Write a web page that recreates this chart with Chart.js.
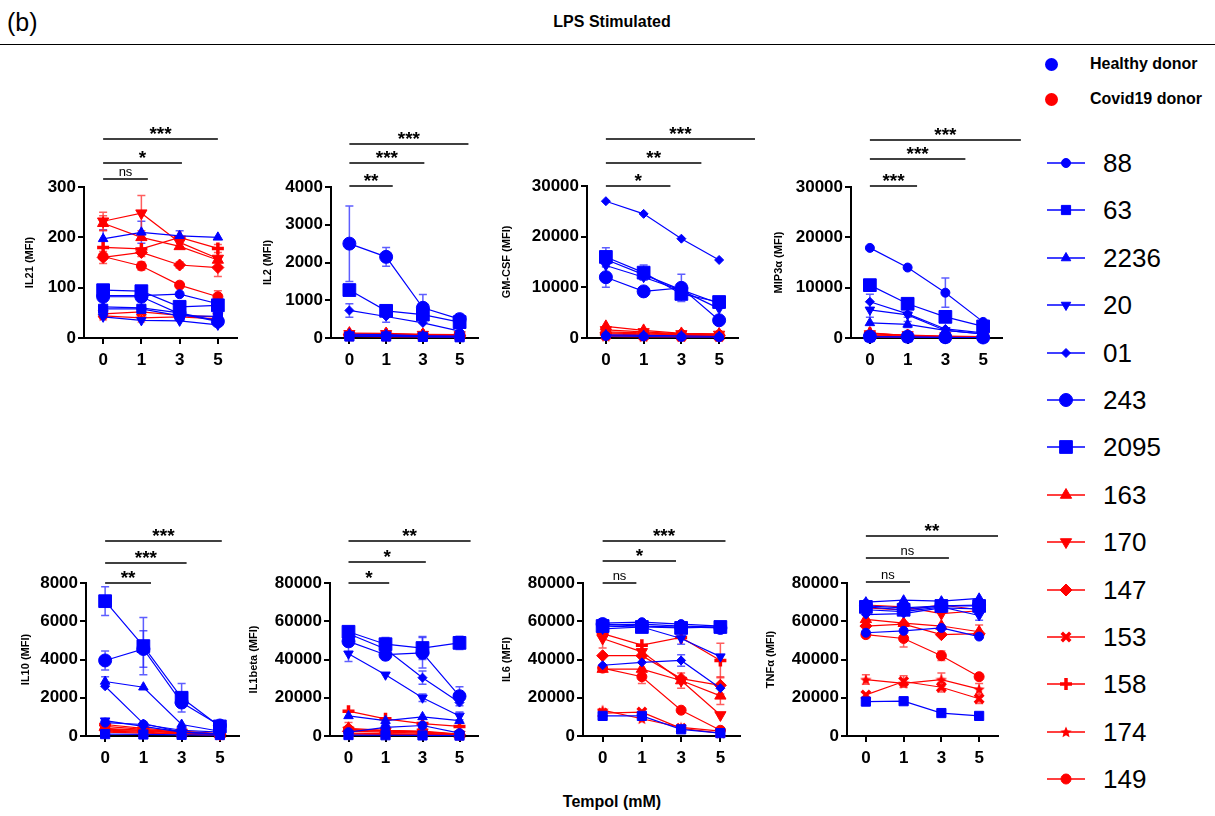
<!DOCTYPE html>
<html>
<head>
<meta charset="utf-8">
<script src="https://cdn.jsdelivr.net/npm/chart.js@4.4.1/dist/chart.umd.min.js"></script>
<style>
  body { margin: 0; background: #fff; font-family: 'Liberation Sans', Arial, sans-serif; }
  #fig { position: relative; width: 1215px; height: 816px; overflow: hidden; background: #fff; }
  .abs { position: absolute; white-space: nowrap; color: #000; }
  canvas.panel { position: absolute; }
</style>
</head>
<body>
<div id="fig">
  <div class="abs" style="left:7px;top:7px;font-size:25px;line-height:30px;">(b)</div>
  <div class="abs" style="left:0;width:1224px;top:12px;text-align:center;font-weight:bold;font-size:16px;line-height:20px;">LPS Stimulated</div>
  <div class="abs" style="left:0;top:44px;width:1215px;border-top:1.5px solid #000;"></div>
  <div class="abs" style="left:0;width:1224px;top:792px;text-align:center;font-weight:bold;font-size:16px;line-height:20px;">Tempol (mM)</div>

  <div class="abs" style="left:1045px;top:58px;width:13px;height:13px;border-radius:50%;background:#0000ff;"></div>
  <div class="abs" style="left:1090px;top:54px;font-weight:bold;font-size:16px;line-height:20px;">Healthy donor</div>
  <div class="abs" style="left:1045px;top:93px;width:13px;height:13px;border-radius:50%;background:#ff0000;"></div>
  <div class="abs" style="left:1090px;top:89px;font-weight:bold;font-size:16px;line-height:20px;">Covid19 donor</div>
</div>

<script>
// x categories (Tempol, mM)
const timePoints = ['0', '1', '3', '5'];

const healthyDonors = ['88', '63', '2236', '20', '01', '243', '2095'];
const covidDonors = ['163', '170', '147', '153', '158', '174', '149'];
const donors = healthyDonors.concat(covidDonors);

// one row per donor, in the order of `donors`
const il21Values = [
  [84, 84, 87, 68], [58, 58, 44, 43], [197, 210, 203, 200], [42, 35, 34, 26],
  [62, 60, 50, 34], [82, 82, 48, 33], [95, 93, 62, 65],
  [228, 200, 182, 155], [232, 248, 190, 158], [160, 170, 145, 140], [48, 52, 45, 42],
  [180, 177, 200, 178], [44, 40, 42, 38], [162, 143, 105, 82]
];
const il2Values = [
  [60, 50, 40, 30], [40, 40, 30, 20], [100, 90, 60, 50], [80, 70, 50, 40],
  [730, 570, 400, 180], [2500, 2150, 800, 500], [1270, 720, 620, 420],
  [130, 120, 100, 90], [110, 110, 90, 80], [90, 80, 70, 60], [60, 50, 40, 40],
  [100, 90, 80, 70], [40, 30, 30, 30], [70, 60, 50, 40]
];
const gmcsfValues = [
  [400, 300, 200, 150], [15500, 12500, 9500, 6800], [600, 500, 400, 300], [14300, 12000, 9400, 5800],
  [27000, 24500, 19600, 15400], [12000, 9200, 9900, 3500], [16000, 12900, 8700, 7100],
  [2300, 1500, 900, 800], [1600, 1200, 800, 700], [1000, 800, 600, 500], [500, 400, 300, 300],
  [800, 600, 500, 400], [300, 200, 200, 200], [1200, 1000, 700, 600]
];
const mip3aValues = [
  [17900, 14000, 9000, 3200], [200, 150, 100, 100], [3000, 2700, 1500, 800], [5600, 4600, 1500, 800],
  [7200, 4800, 1800, 1000], [300, 250, 150, 100], [10500, 6800, 4200, 2300],
  [1000, 500, 300, 200], [800, 600, 400, 300], [600, 400, 300, 200], [300, 200, 150, 100],
  [900, 500, 300, 200], [200, 150, 100, 100], [500, 300, 200, 150]
];
const il10Values = [
  [700, 600, 300, 200], [100, 80, 60, 50], [2850, 2550, 600, 250], [800, 500, 200, 100],
  [2600, 650, 200, 100], [3950, 4550, 1750, 550], [7050, 4700, 2000, 500],
  [500, 350, 200, 100], [400, 300, 200, 100], [300, 250, 150, 80], [250, 200, 100, 60],
  [600, 400, 250, 120], [200, 150, 100, 50], [350, 300, 150, 80]
];
const il1betaValues = [
  [2000, 4500, 5500, 1500], [500, 400, 300, 200], [10500, 8000, 10000, 8000], [43000, 32000, 20000, 10500],
  [53500, 45500, 30500, 17500], [49500, 42500, 43500, 20800], [54500, 48000, 46000, 48700],
  [4000, 3000, 2500, 1000], [3000, 2500, 2000, 800], [2500, 2000, 1500, 600], [1500, 1200, 1000, 500],
  [13000, 9000, 6500, 5000], [1000, 800, 700, 400], [3500, 2800, 2200, 900]
];
const il6Values = [
  [59000, 59500, 58500, 57500], [10500, 10500, 3500, 1500], [58000, 58500, 57500, 57000], [56000, 57000, 51000, 41500],
  [37000, 38500, 39500, 25000], [58500, 57500, 57000, 56500], [57500, 57000, 56500, 57000],
  [35000, 35000, 29000, 21000], [51000, 44000, 29000, 11000], [42000, 42000, 30000, 26500], [12000, 12500, 4000, 1500],
  [53500, 47500, 51500, 39500], [13500, 9000, 4500, 2500], [35500, 31000, 13500, 3000]
];
const tnfaValues = [
  [54000, 55000, 56500, 52000], [18000, 18200, 12000, 10500], [70000, 71000, 70500, 72000], [66000, 65000, 67500, 63000],
  [63500, 64000, 67000, 66500], [68000, 67000, 68000, 68500], [67500, 66000, 68000, 68000],
  [61000, 59000, 57500, 54500], [68500, 67500, 64000, 65500], [57500, 58500, 53000, 53500], [21500, 28500, 25500, 19500],
  [67000, 66000, 68500, 66000], [29500, 27500, 29500, 24500], [53000, 51000, 42000, 31000]
];

// visible error bars (SD), by donor
const il21Errors = { '2236': [18, 22, 10, 0], '163': [15, 0, 0, 0], '170': [18, 35, 12, 0], '147': [12, 8, 6, 18], '149': [0, 8, 0, 12], '158': [0, 0, 0, 8], '153': [10, 0, 0, 0] };
const il2Errors = { '243': [1000, 250, 350, 60], '01': [180, 150, 0, 0], '2095': [0, 100, 0, 0] };
const gmcsfErrors = { '2095': [1800, 1500, 0, 0], '243': [2000, 0, 2700, 0] };
const mip3aErrors = { '88': [0, 0, 2900, 0], '01': [1500, 0, 0, 0], '20': [1500, 500, 0, 0], '2236': [0, 600, 0, 0] };
const il10Errors = { '2095': [750, 1500, 750, 0], '243': [500, 950, 0, 0], '2236': [250, 0, 0, 0] };
const il1betaErrors = { '2095': [0, 3500, 6000, 3500], '243': [0, 2000, 8000, 5000], '20': [4000, 0, 2000, 2000], '01': [0, 0, 3500, 0], '163': [3000, 0, 0, 0] };
const il6Errors = { '20': [0, 0, 3000, 0], '01': [0, 0, 3000, 0], '158': [0, 0, 0, 9000], '170': [5000, 0, 0, 0], '149': [0, 3500, 0, 0], '163': [0, 0, 4000, 4500], '147': [0, 0, 0, 4500] };
const tnfaErrors = { '149': [0, 4500, 2500, 0], '174': [2500, 0, 3500, 3000], '153': [0, 3000, 2500, 2500], '63': [2000, 0, 0, 0], '163': [0, 0, 0, 3500], '20': [0, 0, 0, 2500] };

// significance bars: label and how far (in category steps from "0") the bar reaches
const il21Sig = [['ns', 1.17], ['*', 2.06], ['***', 3.0]];
const il2Sig = [['**', 1.18], ['***', 2.04], ['***', 3.24]];
const gmcsfSig = [['*', 1.71], ['**', 2.53], ['***', 3.95]];
const mip3aSig = [['***', 1.25], ['***', 2.53], ['***', 4.0]];
const il10Sig = [['**', 1.2], ['***', 2.13], ['***', 3.05]];
const il1betaSig = [['*', 1.1], ['*', 2.09], ['**', 3.3]];
const il6Sig = [['ns', 0.86], ['*', 1.87], ['***', 3.13]];
const tnfaSig = [['ns', 1.17], ['ns', 2.2], ['**', 3.5]];

// y tick labels
const il21Ticks = [0, 100, 200, 300];
const il2Ticks = [0, 1000, 2000, 3000, 4000];
const gmcsfTicks = [0, 10000, 20000, 30000];
const mip3aTicks = [0, 10000, 20000, 30000];
const il10Ticks = [0, 2000, 4000, 6000, 8000];
const il1betaTicks = [0, 20000, 40000, 60000, 80000];
const il6Ticks = [0, 20000, 40000, 60000, 80000];
const tnfaTicks = [0, 20000, 40000, 60000, 80000];

const panels = [
  { name: 'IL21 (MFI)', values: il21Values, errors: il21Errors, sig: il21Sig, ticks: il21Ticks },
  { name: 'IL2 (MFI)', values: il2Values, errors: il2Errors, sig: il2Sig, ticks: il2Ticks },
  { name: 'GM-CSF (MFI)', values: gmcsfValues, errors: gmcsfErrors, sig: gmcsfSig, ticks: gmcsfTicks },
  { name: 'MIP3\u03b1 (MFI)', values: mip3aValues, errors: mip3aErrors, sig: mip3aSig, ticks: mip3aTicks },
  { name: 'IL10 (MFI)', values: il10Values, errors: il10Errors, sig: il10Sig, ticks: il10Ticks },
  { name: 'IL1beta (MFI)', values: il1betaValues, errors: il1betaErrors, sig: il1betaSig, ticks: il1betaTicks },
  { name: 'IL6 (MFI)', values: il6Values, errors: il6Errors, sig: il6Sig, ticks: il6Ticks },
  { name: 'TNF\u03b1 (MFI)', values: tnfaValues, errors: tnfaErrors, sig: tnfaSig, ticks: tnfaTicks }
];

// where each plot sits on the page
const panelLayout = [
  { axisX: 84, top: 187, w: 153, h: 151, titleGap: 54, rise: [8, 24, 48] },
  { axisX: 331, top: 187, w: 147, h: 151, titleGap: 63, rise: [1, 24, 43] },
  { axisX: 587, top: 186, w: 151, h: 152, titleGap: 80, rise: [0, 23, 47] },
  { axisX: 851, top: 187, w: 151, h: 151, titleGap: 72, rise: [1, 28, 47] },
  { axisX: 86, top: 583, w: 153, h: 153, titleGap: 60, rise: [0, 20, 42] },
  { axisX: 330, top: 583, w: 148, h: 153, titleGap: 76, rise: [0, 21, 42] },
  { axisX: 583, top: 583, w: 157, h: 153, titleGap: 76, rise: [0, 22, 42] },
  { axisX: 847, top: 583, w: 151, h: 153, titleGap: 76, rise: [1, 25, 47] }
];

const BLUE = '#0000ff', RED = '#ff0000';
const BLUE_ERR = 'rgba(40,40,255,0.75)', RED_ERR = 'rgba(255,40,40,0.75)';

// filled five-point star, used as a point image for donor 174
function starImage(size, color) {
  const c = document.createElement('canvas');
  c.width = size; c.height = size;
  const g = c.getContext('2d');
  const cx = size / 2, cy = size / 2 + 0.5, ro = size / 2, ri = ro * 0.45;
  g.fillStyle = color;
  g.beginPath();
  for (let k = 0; k < 10; k++) {
    const a = -Math.PI / 2 + k * Math.PI / 5;
    const r = k % 2 ? ri : ro;
    g.lineTo(cx + r * Math.cos(a), cy + r * Math.sin(a));
  }
  g.closePath();
  g.fill();
  return c;
}

const markerStyles = {
  '88': { style: 'circle', r: 4.5 },
  '63': { style: 'rect', r: 6.5 },
  '2236': { style: 'triangle', r: 5.5 },
  '20': { style: 'triangle', r: 5.5, rot: 180 },
  '01': { style: 'rectRot', r: 4.5 },
  '243': { style: 'circle', r: 6.5 },
  '2095': { style: 'rect', r: 9 },
  '163': { style: 'triangle', r: 6.5 },
  '170': { style: 'triangle', r: 6.5, rot: 180 },
  '147': { style: 'rectRot', r: 6 },
  '153': { style: 'crossRot', r: 6, bw: 3.5 },
  '158': { style: 'cross', r: 6, bw: 3.5 },
  '174': { style: starImage(12, RED), r: 6 },
  '149': { style: 'circle', r: 5 }
};

Chart.defaults.font.family = "'Liberation Sans', Arial, sans-serif";
Chart.defaults.color = '#000';

const fig = document.getElementById('fig');
const YW = 100, PT = 75, XH = 36, PR = 40;

function extras(p, L) {
  return {
    id: 'extras',
    beforeDatasetsDraw(chart) {
      const ctx = chart.ctx, ys = chart.scales.y;
      ctx.save();
      ctx.lineWidth = 1.5;
      donors.forEach((d, i) => {
        const sd = p.errors[d];
        if (!sd) return;
        const meta = chart.getDatasetMeta(i);
        ctx.strokeStyle = i < healthyDonors.length ? BLUE_ERR : RED_ERR;
        sd.forEach((e, j) => {
          if (!e) return;
          const v = p.values[i][j];
          const x = meta.data[j].x;
          const yt = ys.getPixelForValue(v + e);
          const yb = ys.getPixelForValue(Math.max(0, v - e));
          ctx.beginPath();
          ctx.moveTo(x, yt); ctx.lineTo(x, yb);
          ctx.moveTo(x - 4, yt); ctx.lineTo(x + 4, yt);
          ctx.moveTo(x - 4, yb); ctx.lineTo(x + 4, yb);
          ctx.stroke();
        });
      });
      ctx.restore();
    },
    afterDraw(chart) {
      const ctx = chart.ctx, xs = chart.scales.x, top = chart.chartArea.top;
      const x0 = xs.getPixelForValue(0);
      const step = xs.getPixelForValue(1) - x0;
      ctx.save();
      ctx.strokeStyle = '#000';
      ctx.fillStyle = '#000';
      ctx.lineWidth = 1.5;
      ctx.textAlign = 'center';
      ctx.textBaseline = 'alphabetic';
      p.sig.forEach(([label, to], k) => {
        const ly = top - L.rise[k];
        const x1 = x0 + to * step;
        ctx.beginPath();
        ctx.moveTo(x0, ly); ctx.lineTo(x1, ly);
        ctx.stroke();
        if (label === 'ns') {
          ctx.font = "13px 'Liberation Sans', Arial, sans-serif";
          ctx.fillText(label, (x0 + x1) / 2, ly - 3);
        } else {
          ctx.font = "bold 19px 'Liberation Sans', Arial, sans-serif";
          ctx.fillText(label, (x0 + x1) / 2, ly + 1);
        }
      });
      ctx.restore();
    }
  };
}

panels.forEach((p, idx) => {
  const L = panelLayout[idx];
  const width = YW + L.w + PR, height = PT + L.h + XH;
  const cv = document.createElement('canvas');
  cv.className = 'panel';
  cv.width = width; cv.height = height;
  cv.style.width = width + 'px'; cv.style.height = height + 'px';
  cv.style.left = (L.axisX - YW) + 'px';
  cv.style.top = (L.top - PT) + 'px';
  fig.appendChild(cv);

  const datasets = donors.map((d, i) => {
    const st = markerStyles[d];
    const col = i < healthyDonors.length ? BLUE : RED;
    return {
      label: d,
      data: p.values[i],
      borderColor: col,
      backgroundColor: col,
      borderWidth: 1.2,
      pointStyle: st.style,
      pointRadius: st.r,
      pointRotation: st.rot || 0,
      pointBorderWidth: st.bw || 1,
      pointBackgroundColor: col,
      pointBorderColor: col,
      tension: 0,
      clip: false
    };
  });

  const yMax = p.ticks[p.ticks.length - 1];
  const yStep = p.ticks[1] - p.ticks[0];

  new Chart(cv, {
    type: 'line',
    data: { labels: timePoints, datasets },
    options: {
      responsive: false,
      animation: false,
      layout: { padding: { top: PT, right: PR, left: 0, bottom: 0 } },
      plugins: { legend: { display: false }, tooltip: { enabled: false } },
      scales: {
        x: {
          type: 'category',
          offset: true,
          grid: { display: true, offset: false, drawOnChartArea: false, drawTicks: true, tickLength: 6, color: '#000', lineWidth: 2 },
          border: { display: true, color: '#000', width: 2 },
          ticks: { color: '#000', font: { size: 17, weight: 'bold' }, padding: 6, maxRotation: 0 },
          afterFit: s => { s.height = XH; }
        },
        y: {
          min: 0,
          max: yMax,
          grid: { display: true, drawOnChartArea: false, drawTicks: true, tickLength: 6, color: '#000', lineWidth: 2 },
          border: { display: true, color: '#000', width: 2 },
          ticks: { stepSize: yStep, color: '#000', font: { size: 17, weight: 'bold' }, padding: 2, callback: v => String(v) },
          title: {
            display: true,
            text: p.name,
            color: '#000',
            font: { size: 11, weight: 'bold' },
            padding: { top: YW - L.titleGap - 6.6, bottom: 0 }
          },
          afterFit: s => { s.width = YW; }
        }
      }
    },
    plugins: [extras(p, L)]
  });
});

// donor legend on the right
const legendTop = 163, legendStep = 47.4;
donors.forEach((d, i) => {
  const yc = legendTop + i * legendStep;
  const col = i < healthyDonors.length ? BLUE : RED;
  const st = markerStyles[d];
  const cv = document.createElement('canvas');
  cv.width = 44; cv.height = 30;
  cv.className = 'panel';
  cv.style.left = '1045px';
  cv.style.top = (yc - 15) + 'px';
  fig.appendChild(cv);
  const ctx = cv.getContext('2d');
  ctx.strokeStyle = col; ctx.fillStyle = col;
  ctx.lineWidth = 1.5;
  ctx.beginPath(); ctx.moveTo(2, 15); ctx.lineTo(40, 15); ctx.stroke();
  ctx.lineWidth = st.bw || 1;
  Chart.helpers.drawPoint(ctx, { pointStyle: st.style, rotation: st.rot || 0, radius: st.r, borderWidth: st.bw || 1 }, 21, 15);

  const t = document.createElement('div');
  t.className = 'abs';
  t.style.left = '1103px';
  t.style.top = (yc - 16) + 'px';
  t.style.fontSize = '26px';
  t.style.lineHeight = '32px';
  t.textContent = d;
  fig.appendChild(t);
});
</script>
</body>
</html>
